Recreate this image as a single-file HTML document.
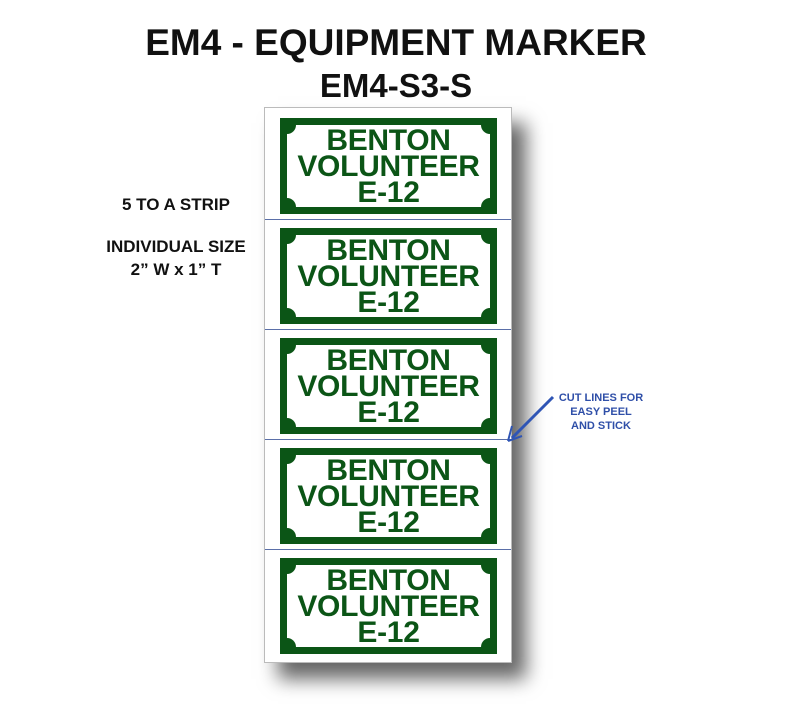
<!DOCTYPE html>
<html><head><style>
body{margin:0;width:792px;height:704px;background:#fff;position:relative;font-family:"Liberation Sans",Arial,sans-serif;font-weight:bold;overflow:hidden}
.t{position:absolute;left:0;width:792px;text-align:center;color:#111}
.strip{position:absolute;left:264px;top:107px;width:248px;height:556px;border:1px solid #bbb;box-sizing:border-box;background:#fff;box-shadow:14px 16px 18px rgba(0,0,0,0.6)}
.cut{position:absolute;left:0;width:100%;height:1px;background:#5a6fa8}
.lab{position:absolute;left:15px;width:217px;height:96px;background:#0b5516}
.in{position:absolute;left:7px;top:7px;right:7px;bottom:7px;background:#fff;color:#0b5516;text-align:center;font-size:30px;line-height:26px;padding-top:3px;box-sizing:border-box;overflow:hidden;letter-spacing:-0.3px}
.c{position:absolute;width:18px;height:18px;border-radius:50%;background:#0b5516}
.l{position:absolute;color:#111;font-size:17px;text-align:center}
</style></head><body>
<div class="t" style="top:22px;font-size:37px">EM4 - EQUIPMENT MARKER</div>
<div class="t" style="top:67px;font-size:33px">EM4-S3-S</div>
<div class="l" style="left:90px;width:172px;top:195px">5 TO A STRIP</div>
<div class="l" style="left:90px;width:172px;top:237px">INDIVIDUAL SIZE</div>
<div class="l" style="left:90px;width:172px;top:260px">2” W x 1” T</div>
<div class="strip">
<div class="cut" style="top:111px"></div><div class="cut" style="top:221px"></div><div class="cut" style="top:331px"></div><div class="cut" style="top:441px"></div>
<div class="lab" style="top:10px"><div class="in"><div class="c" style="left:-9px;top:-9px"></div><div class="c" style="right:-9px;top:-9px"></div><div class="c" style="left:-9px;bottom:-9px"></div><div class="c" style="right:-9px;bottom:-9px"></div><span style="position:relative">BENTON<br>VOLUNTEER<br>E-12</span></div></div>
<div class="lab" style="top:120px"><div class="in"><div class="c" style="left:-9px;top:-9px"></div><div class="c" style="right:-9px;top:-9px"></div><div class="c" style="left:-9px;bottom:-9px"></div><div class="c" style="right:-9px;bottom:-9px"></div><span style="position:relative">BENTON<br>VOLUNTEER<br>E-12</span></div></div>
<div class="lab" style="top:230px"><div class="in"><div class="c" style="left:-9px;top:-9px"></div><div class="c" style="right:-9px;top:-9px"></div><div class="c" style="left:-9px;bottom:-9px"></div><div class="c" style="right:-9px;bottom:-9px"></div><span style="position:relative">BENTON<br>VOLUNTEER<br>E-12</span></div></div>
<div class="lab" style="top:340px"><div class="in"><div class="c" style="left:-9px;top:-9px"></div><div class="c" style="right:-9px;top:-9px"></div><div class="c" style="left:-9px;bottom:-9px"></div><div class="c" style="right:-9px;bottom:-9px"></div><span style="position:relative">BENTON<br>VOLUNTEER<br>E-12</span></div></div>
<div class="lab" style="top:450px"><div class="in"><div class="c" style="left:-9px;top:-9px"></div><div class="c" style="right:-9px;top:-9px"></div><div class="c" style="left:-9px;bottom:-9px"></div><div class="c" style="right:-9px;bottom:-9px"></div><span style="position:relative">BENTON<br>VOLUNTEER<br>E-12</span></div></div>
</div>
<svg style="position:absolute;left:0;top:0" width="792" height="704"><line x1="553" y1="397" x2="512" y2="438" stroke="#2f55b5" stroke-width="3"/><path d="M508 441 L512 426 M508 441 L522 436" stroke="#2f55b5" stroke-width="2" fill="none"/></svg>
<div class="l" style="left:545px;width:112px;top:391px;font-size:11px;line-height:14px;color:#2f4fa8">CUT LINES FOR<br>EASY PEEL<br>AND STICK</div>
</body></html>
